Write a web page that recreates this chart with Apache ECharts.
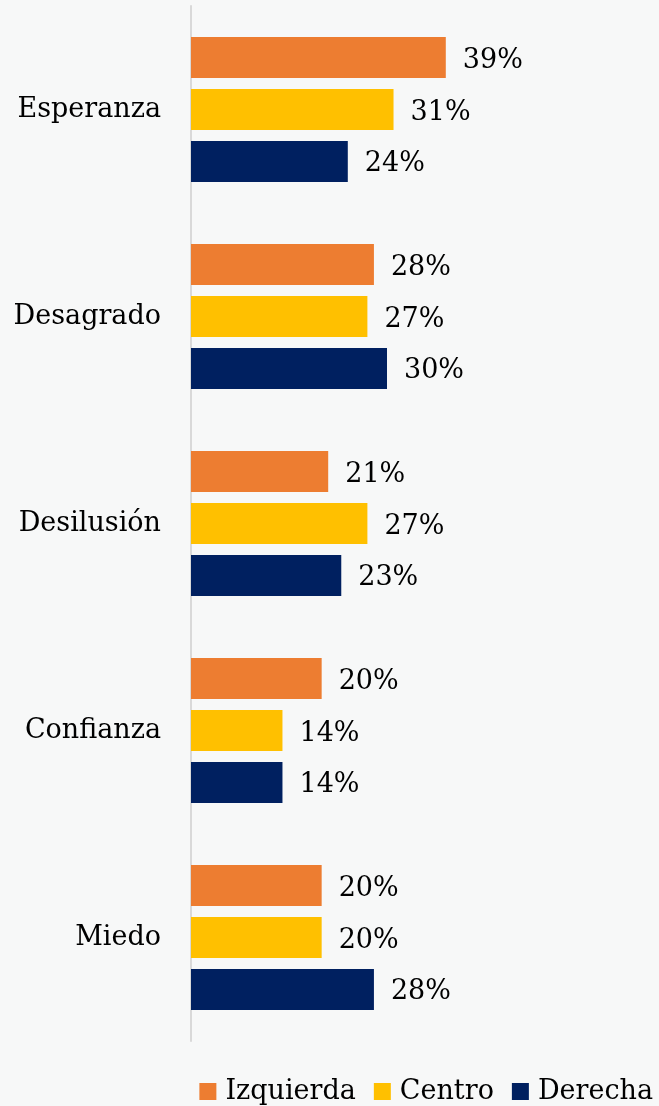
<!DOCTYPE html>
<html>
<head>
<meta charset="utf-8">
<script src="https://cdn.jsdelivr.net/npm/echarts@6/dist/echarts.min.js"></script>
<style>
  html, body { margin: 0; padding: 0; background: #f7f8f8; }
  #chart { width: 659px; height: 1106px; }
</style>
</head>
<body>
<div id="chart"></div>
<script>
const categories = ['Esperanza', 'Desagrado', 'Desilusión', 'Confianza', 'Miedo']
const izquierda = [39, 28, 21, 20, 20]
const centro = [31, 27, 27, 14, 20]
const derecha = [24, 30, 23, 14, 28]

const font = 'DejaVu Serif'

const makeSeries = (name, data, color) => ({
  name: name,
  type: 'bar',
  data: data,
  barCategoryGap: '30%',
  barGap: '27%',
  itemStyle: { color: color },
  label: {
    show: true,
    position: 'right',
    distance: 17,
    offset: [0, 3],
    formatter: '{c}%',
    fontFamily: font,
    fontSize: 27,
    color: '#000'
  }
})

const chart = echarts.init(document.getElementById('chart'))
chart.setOption({
  backgroundColor: '#f7f8f8',
  animation: false,
  grid: {
    left: 191,
    right: 76,
    top: 6,
    bottom: 65
  },
  legend: {
    right: 1,
    top: 1073,
    padding: [5, 5, 5, 5],
    itemWidth: 17,
    itemHeight: 17,
    itemGap: 18,
    icon: 'rect',
    textStyle: {
      fontFamily: font,
      fontSize: 27,
      color: '#000',
      padding: [0, 0, 0, 4]
    }
  },
  xAxis: {
    type: 'value',
    min: 0,
    max: 60,
    show: false
  },
  yAxis: {
    type: 'category',
    data: categories,
    inverse: true,
    axisLine: { show: true, lineStyle: { color: '#d9d9d9', width: 2 } },
    axisTick: { show: false },
    axisLabel: {
      margin: 30,
      padding: [10, 0, 0, 0],
      fontFamily: font,
      fontSize: 27,
      color: '#000'
    }
  },
  series: [
    makeSeries('Izquierda', izquierda, '#ed7d31'),
    makeSeries('Centro', centro, '#ffc000'),
    makeSeries('Derecha', derecha, '#002060')
  ]
})
</script>
</body>
</html>
